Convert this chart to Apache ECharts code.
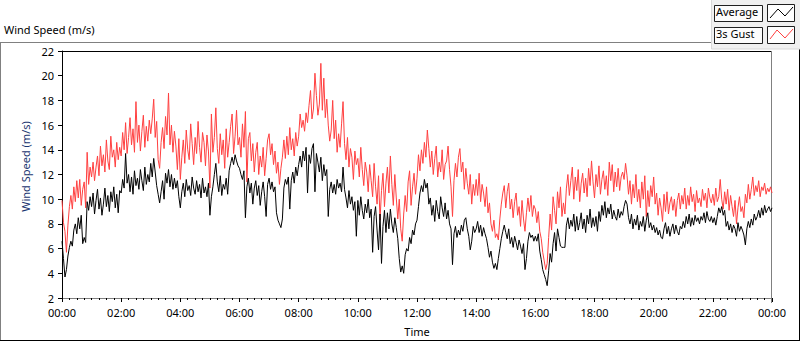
<!DOCTYPE html>
<html>
<head>
<meta charset="utf-8">
<script src="https://cdn.jsdelivr.net/npm/echarts@6/dist/echarts.min.js"></script>
<style>
  html, body { margin: 0; padding: 0; background: #fff; }
  #chart { width: 800px; height: 342px; }
</style>
</head>
<body>
<div id="chart"></div>
<script>
// one sample every 3 minutes, 00:00 .. 24:00 (481 samples, one row per hour)
var stepMinutes = 3;

// "Average" wind speed, m/s
var avgSpeed = [
  6.6, 5.2, 3.7, 4.3, 5.4, 6.1, 6.6, 6.2, 7.5, 8.0, 7.2, 8.5, 7.6, 8.7, 6.4, 6.9, 6.5, 9.8, 9.1, 10.2,
  9.4, 10.5, 8.8, 9.9, 10.8, 9.2, 10.1, 8.7, 9.6, 10.9, 9.4, 10.3, 9.0, 10.6, 9.8, 11.0, 9.3, 10.4, 8.9, 10.7,
  10.5, 11.6, 10.9, 13.7, 11.3, 12.0, 10.6, 11.8, 10.4, 12.3, 11.1, 11.7, 10.8, 12.4, 11.5, 10.7, 12.6, 11.2, 12.0, 11.4,
  12.9, 11.8, 13.3, 12.2, 11.1, 10.4, 9.7, 10.6, 11.5, 10.0, 12.1, 11.3, 12.4, 11.0, 12.0, 10.8, 11.7, 10.9, 11.5, 10.2,
  9.3, 10.6, 11.3, 10.2, 11.6, 10.7, 11.1, 10.3, 11.8, 10.9, 10.4, 11.5, 10.6, 11.2, 10.1, 11.7, 10.5, 11.0, 10.2, 11.3,
  8.7, 10.2, 11.0, 12.0, 12.9, 11.4, 10.6, 11.9, 10.3, 11.2, 10.8, 11.7, 10.4, 12.3, 12.9, 13.4, 12.8, 13.6, 13.1, 12.7,
  12.5, 12.0, 11.6, 12.3, 8.5, 11.0, 11.7, 10.5, 11.3, 9.6, 10.9, 11.5, 10.3, 11.1, 9.5, 10.6, 11.4, 10.2, 8.6, 11.2,
  11.7, 10.8, 11.4, 10.6, 11.0, 8.9, 8.3, 8.0, 7.7, 8.4, 10.9, 11.6, 11.2, 11.8, 9.2, 11.5, 12.2, 11.3, 12.6, 11.9,
  12.8, 13.5, 12.6, 13.9, 13.1, 14.2, 10.5, 13.6, 12.9, 14.1, 14.5, 10.6, 13.7, 13.0, 12.2, 13.4, 11.5, 12.8, 11.9, 12.4,
  8.6, 10.8, 11.4, 10.5, 11.2, 10.4, 11.6, 10.9, 11.3, 10.6, 12.6, 10.8, 10.1, 9.3, 10.7, 9.6, 10.2, 9.1, 9.8, 7.0,
  9.9, 8.7, 10.2, 9.1, 8.4, 9.6, 8.9, 10.0, 8.5, 9.2, 5.7, 8.6, 9.4, 7.5, 5.9, 8.8, 4.8, 7.8, 9.1, 7.3,
  8.9, 7.6, 9.2, 8.0, 7.3, 8.5, 7.7, 6.8, 5.2, 4.1, 4.6, 4.0, 5.5, 6.0, 5.8, 6.9, 6.4, 7.5, 7.1, 8.0,
  8.3, 9.4, 10.5, 11.1, 10.6, 11.6, 10.9, 11.3, 9.6, 10.1, 8.7, 9.5, 8.2, 9.9, 9.0, 8.4, 10.2, 9.3, 8.6, 9.7,
  8.4, 9.1, 8.0, 7.6, 4.7, 7.2, 7.8, 6.9, 7.5, 7.1, 7.9, 7.4, 8.3, 8.5, 7.6, 7.0, 5.9, 6.6, 7.8, 7.3,
  7.6, 8.2, 7.3, 7.9, 7.0, 7.7, 7.2, 6.8, 6.1, 5.3, 5.8, 4.9, 4.4, 4.8, 4.3, 5.2, 6.0, 6.8, 7.4, 7.9,
  7.3, 6.8, 7.6, 6.4, 6.9, 6.1, 7.0, 6.5, 5.9, 6.7, 6.2, 5.6, 6.4, 4.3, 5.2, 6.6, 7.3, 6.9, 7.1, 6.6,
  7.0, 6.6, 7.2, 5.8, 5.1, 4.3, 3.9, 3.5, 3.0, 4.2, 5.6, 4.9, 6.4, 7.3, 5.8, 7.6, 6.9, 6.2, 6.1, 6.1,
  6.1, 7.9, 8.5, 7.6, 8.3, 7.8, 8.8, 7.4, 8.6, 7.5, 8.1, 8.9, 7.6, 8.4, 7.3, 8.7, 8.0, 9.2, 7.7, 8.5,
  7.8, 8.6, 7.4, 9.0, 8.2, 9.5, 8.7, 9.8, 8.5, 9.3, 8.8, 9.6, 8.4, 9.1, 8.6, 8.3, 9.2, 8.5, 9.0, 8.7,
  9.4, 9.9, 9.6, 8.5, 8.0, 8.8, 7.6, 8.4, 7.9, 8.7, 7.5, 8.2, 7.8, 8.6, 7.4, 8.3, 8.9, 7.7, 8.1, 7.5,
  7.9, 7.3, 7.7, 7.1, 7.5, 6.9, 6.8, 7.6, 8.1, 7.2, 7.8, 7.0, 7.6, 8.0, 7.2, 7.9, 7.4, 7.1, 7.8, 7.6,
  8.2, 7.7, 8.6, 8.0, 8.8, 7.8, 8.5, 7.9, 8.7, 8.2, 8.5, 8.0, 8.6, 8.3, 8.9, 8.1, 9.0, 8.4, 8.2, 8.6,
  8.1, 8.5, 7.9, 8.6, 9.3, 8.9, 9.4, 8.7, 9.1, 7.8, 8.2, 7.5, 8.0, 7.3, 7.9, 7.6, 7.0, 8.1, 7.4, 7.8,
  7.5, 7.1, 6.3, 7.6, 8.2, 7.7, 8.4, 7.9, 8.8, 8.3, 8.6, 9.1, 8.5, 9.3, 8.7, 9.5, 8.9, 9.2, 9.4, 9.0,
  9.3
];

// "3s Gust" wind speed, m/s
var gustSpeed = [
  9.9, 8.1, 7.4, 5.7, 7.9, 9.4, 10.3, 9.2, 11.0, 9.8, 11.5, 10.1, 11.6, 9.5, 10.8, 11.4, 9.3, 13.8, 11.2, 12.6,
  11.8, 13.0, 11.5, 12.6, 13.5, 11.9, 14.3, 12.7, 13.6, 12.2, 14.8, 13.1, 12.4, 15.1, 13.4, 14.0, 12.6, 14.6, 13.2, 14.2,
  13.5, 15.4, 14.0, 16.2, 13.7, 15.0, 16.6, 14.4, 15.7, 13.8, 17.9, 14.6, 16.0, 13.9, 15.5, 16.8, 14.2, 15.9, 14.7, 16.4,
  15.3, 16.5, 18.1, 15.0, 16.3, 13.2, 12.5, 14.6, 15.8, 14.1, 16.7, 15.2, 18.6, 14.4, 16.0, 13.8, 15.5, 14.3, 12.4, 14.9,
  11.6, 13.4, 14.8, 12.9, 15.6, 14.0, 13.2, 16.1, 14.5, 12.8, 15.0, 13.7, 16.3, 14.2, 13.0, 15.4, 14.6, 12.7, 15.2, 13.9,
  10.9, 16.9, 13.8, 15.0, 17.4, 14.1, 12.9, 15.3, 13.6, 14.8, 12.5, 15.7, 13.4, 14.6, 15.9, 16.9, 13.7, 15.1, 17.2, 14.4,
  15.0, 13.4, 16.1, 14.2, 17.1, 11.4, 14.9, 15.4, 13.1, 14.5, 12.2, 13.8, 14.6, 12.0, 13.5, 12.6, 14.2, 11.9, 13.3, 14.8,
  15.3, 13.6, 14.5, 12.8, 13.9, 12.1, 13.0, 11.2, 12.5, 13.4, 14.8, 13.3, 15.1, 13.6, 15.8, 14.0, 14.9, 13.5, 15.4, 14.3,
  15.1, 16.9, 15.8, 16.4, 15.5, 17.0, 16.2, 17.6, 18.8, 16.5, 17.3, 20.2, 18.4, 16.8, 17.7, 21.0, 17.2, 19.8, 16.6, 18.1,
  16.0, 14.7, 15.6, 18.0, 14.9, 16.4, 13.8, 15.3, 14.2, 16.1, 17.9, 14.5, 13.2, 15.0, 12.6, 14.1, 13.4, 11.6, 13.9, 12.8,
  13.3, 11.8, 14.2, 12.4, 11.1, 13.0, 12.2, 10.6, 12.8, 11.5, 10.2, 12.9, 11.0, 9.6, 11.9, 8.3, 10.7, 12.1, 9.4, 11.3,
  12.6, 10.5, 13.5, 11.2, 9.5, 12.0, 10.1, 8.4, 10.0, 7.6, 6.6, 8.8, 10.3, 9.0, 11.4, 12.3, 9.5, 11.0, 12.1, 10.4,
  11.7, 13.6, 12.3, 14.0, 12.9, 14.6, 13.4, 15.6, 14.1, 12.6, 13.9, 12.0, 13.3, 14.3, 11.8, 13.0, 12.2, 14.0, 11.6, 12.8,
  13.1, 14.3, 12.4, 11.0, 8.6, 11.5, 12.9, 11.8, 13.4, 14.1, 12.2, 13.0, 10.8, 12.5, 11.3, 10.4, 12.0, 9.6, 11.2, 10.3,
  11.6, 10.3, 12.1, 9.8, 11.2, 10.5, 9.4, 11.0, 8.9, 9.7, 8.0, 7.4, 8.3, 6.9, 7.2, 6.7, 8.4, 9.6, 10.5, 11.1,
  9.3, 10.6, 11.3, 9.2, 10.0, 8.5, 9.8, 10.5, 8.7, 9.4, 7.8, 9.9, 8.4, 7.4, 8.9, 10.1, 9.0, 10.3, 8.6, 9.5,
  9.2, 8.1, 9.0, 7.4, 6.8, 5.7, 5.0, 4.3, 4.8, 6.9, 8.8, 7.5, 10.2, 9.1, 8.0, 10.6, 9.3, 11.0, 8.6, 9.7,
  8.8, 10.9, 12.0, 10.3, 11.5, 12.6, 10.0, 11.8, 10.7, 12.4, 9.8, 11.3, 12.1, 10.5, 11.7, 10.2, 12.5, 11.1, 13.1, 11.4,
  10.1, 12.0, 11.0, 12.7, 10.4, 11.6, 12.3, 10.8, 11.9, 10.3, 13.0, 11.5, 12.8, 10.6, 12.2, 11.0, 12.5, 10.7, 11.8, 12.2,
  11.6, 12.9, 11.9, 10.4, 11.5, 9.6, 11.2, 10.1, 12.0, 9.8, 10.8, 9.3, 11.4, 10.0, 11.9, 8.6, 10.7, 9.4, 11.1, 10.2,
  11.8, 9.6, 10.5, 8.7, 10.1, 9.3, 8.2, 10.4, 9.0, 10.6, 8.8, 9.7, 10.2, 9.1, 10.0, 8.6, 9.9, 10.5, 9.2, 10.3,
  9.6, 10.9, 9.2, 10.3, 9.5, 11.0, 9.8, 10.4, 9.0, 10.7, 9.7, 10.1, 9.4, 10.8, 9.9, 10.5, 9.3, 10.9, 10.1, 9.7,
  10.4, 9.5, 10.9, 9.8, 10.2, 11.6, 10.0, 9.2, 10.6, 9.6, 10.8, 9.1, 10.3, 9.4, 8.6, 9.9, 8.0, 9.3, 10.2, 9.0,
  9.4, 8.5, 10.4, 9.7, 11.2, 10.0, 10.8, 11.8, 10.3, 11.1, 10.6, 11.5, 10.2, 11.0, 10.7, 11.3, 10.4, 10.9, 10.6, 11.0,
  10.5
];

var yMin = 2, yMax = 22, yStep = 2;
var xMax = 1440, xStep = 120; // minutes, label every 2 h

function toPairs(values) {
  var out = [];
  for (var i = 0; i < values.length; i++) {
    out.push([i * stepMinutes, values[i]]);
  }
  return out;
}

function timeLabel(v) {
  var h = Math.round(v / 60) % 24;
  return (h < 10 ? "0" : "") + h + ":00";
}

var font = "Noto Sans";
var chart = echarts.init(document.getElementById("chart"), null, { renderer: "svg" });

var option = {
  animation: false,
  backgroundColor: "#fff",
  grid: { left: 62, right: 28, top: 51, bottom: 39 },
  xAxis: {
    type: "value",
    min: 0,
    max: xMax,
    interval: xStep,
    name: "Time",
    nameLocation: "middle",
    nameGap: 28,
    nameTextStyle: { color: "#000", fontSize: 11, fontFamily: font },
    axisLine: { lineStyle: { color: "#808080", width: 1 } },
    axisTick: { show: true, length: 4, lineStyle: { color: "#000" } },
    minorTick: { show: true, splitNumber: 8, length: 2, lineStyle: { color: "#000" } },
    splitLine: { show: false },
    axisLabel: { color: "#000", fontSize: 11, fontFamily: font, margin: 9, formatter: timeLabel }
  },
  yAxis: {
    type: "value",
    min: yMin,
    max: yMax,
    interval: yStep,
    name: "Wind Speed (m/s)",
    nameLocation: "middle",
    nameGap: 26,
    // the label sits a little above the middle of the axis
    nameTextStyle: { color: "#1a3570", fontSize: 11, fontFamily: font, padding: [0, 0, 0, 16] },
    axisLine: { show: true, lineStyle: { color: "#000", width: 1 } },
    axisTick: { show: true, length: 4, lineStyle: { color: "#000" } },
    splitLine: { show: false },
    axisLabel: { color: "#000", fontSize: 11, fontFamily: font, margin: 8 }
  },
  series: [
    {
      name: "3s Gust",
      type: "line",
      data: toPairs(gustSpeed),
      showSymbol: false,
      lineStyle: { color: "#ff4040", width: 1 },
      itemStyle: { color: "#ff4040" },
      z: 2
    },
    {
      name: "Average",
      type: "line",
      data: toPairs(avgSpeed),
      showSymbol: false,
      lineStyle: { color: "#000", width: 1 },
      itemStyle: { color: "#000" },
      z: 3
    }
  ],
  graphic: [
    // outer frame
    { type: "line", shape: { x1: 0, y1: 42.5, x2: 712, y2: 42.5 }, style: { stroke: "#808080", lineWidth: 1 } },
    { type: "line", shape: { x1: 0.5, y1: 42, x2: 0.5, y2: 341 }, style: { stroke: "#808080", lineWidth: 1 } },
    { type: "line", shape: { x1: 0, y1: 340.5, x2: 800, y2: 340.5 }, style: { stroke: "#000", lineWidth: 1 } },
    { type: "line", shape: { x1: 799.5, y1: 49, x2: 799.5, y2: 341 }, style: { stroke: "#000", lineWidth: 1 } },
    // plot frame top / right
    { type: "line", shape: { x1: 62, y1: 51.5, x2: 772, y2: 51.5 }, style: { stroke: "#000", lineWidth: 1 } },
    { type: "line", shape: { x1: 771.5, y1: 51, x2: 771.5, y2: 303 }, style: { stroke: "#808080", lineWidth: 1 } },
    // title
    {
      type: "text", left: 4, top: 24,
      style: { text: "Wind Speed (m/s)", fill: "#000", fontSize: 11, fontFamily: font }
    },
    // legend panel
    { type: "rect", shape: { x: 711.5, y: -1, width: 90, height: 50 }, style: { fill: "#f0f0f0", stroke: "#d8d8d8" } },
    { type: "rect", shape: { x: 714.5, y: 5.5, width: 48, height: 16 }, style: { fill: "#fcfcfc", stroke: "#202020" } },
    { type: "rect", shape: { x: 767.5, y: 4.5, width: 27, height: 17 }, style: { fill: "#fff", stroke: "#202020" } },
    { type: "rect", shape: { x: 714.5, y: 27.5, width: 48, height: 16 }, style: { fill: "#fcfcfc", stroke: "#202020" } },
    { type: "rect", shape: { x: 767.5, y: 26.5, width: 27, height: 17 }, style: { fill: "#fff", stroke: "#202020" } },
    { type: "text", left: 716, top: 6, style: { text: "Average", fill: "#000", fontSize: 11, fontFamily: font } },
    { type: "text", left: 716, top: 28, style: { text: "3s Gust", fill: "#000", fontSize: 11, fontFamily: font } },
    { type: "polyline", shape: { points: [[770, 18], [778, 9], [785, 16], [793, 7]] }, style: { stroke: "#000", lineWidth: 1, fill: null } },
    { type: "polyline", shape: { points: [[770, 39], [777, 30], [785, 38], [793, 29]] }, style: { stroke: "#ff4040", lineWidth: 1, fill: null } }
  ]
};

chart.setOption(option);
</script>
</body>
</html>
